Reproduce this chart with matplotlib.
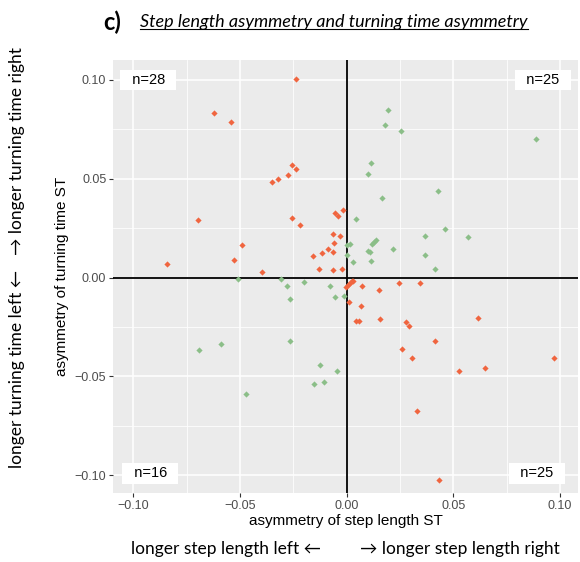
import matplotlib
matplotlib.use("Agg")
import matplotlib.pyplot as plt
from matplotlib.ticker import MultipleLocator
from matplotlib.lines import Line2D

# red: opposite-sign points (upper left / lower right)
red_x = [-0.0239, -0.0622, -0.0541, -0.0255, -0.0239, -0.0274, -0.0323, -0.0352,
         -0.0699, -0.0256, -0.0220, -0.0053, -0.0042, -0.0016, -0.0491, -0.0527,
         -0.0843, -0.0399, -0.0158, -0.0114, -0.0086, -0.0066, -0.0063, -0.0060,
         -0.0033, -0.0131, -0.0066, -0.0021,
         -0.0003, 0.0008, 0.0016, 0.0023, 0.0031, 0.0072, 0.0151, 0.0247, 0.0344,
         0.0012, 0.0068, 0.0044, 0.0059, 0.0155, 0.0278, 0.0294, 0.0617, 0.0415,
         0.0259, 0.0306, 0.0526, 0.0648, 0.0973, 0.0330, 0.0434]
red_y = [0.1004, 0.0832, 0.0789, 0.0570, 0.0551, 0.0521, 0.0498, 0.0481,
         0.0290, 0.0302, 0.0265, 0.0326, 0.0309, 0.0339, 0.0167, 0.0088,
         0.0068, 0.0027, 0.0111, 0.0125, 0.0145, 0.0127, 0.0219, 0.0174,
         0.0209, 0.0044, 0.0037, 0.0044,
         -0.0046, -0.0037, -0.0028, -0.0020, -0.0015, -0.0042, -0.0064, -0.0030, -0.0028,
         -0.0125, -0.0143, -0.0221, -0.0221, -0.0212, -0.0224, -0.0246, -0.0206, -0.0320,
         -0.0361, -0.0405, -0.0472, -0.0455, -0.0405, -0.0673, -0.1023]

# green: same-sign points (upper right / lower left)
green_x = [0.0192, 0.0181, 0.0255, 0.0889, 0.0112, 0.0098, 0.0430, 0.0165,
           0.0042, 0.0459, 0.0567, 0.0366, 0.0216, 0.0367, 0.0415, 0.0120,
           0.0129, 0.0137, 0.0100, 0.0109, 0.0115, 0.0031, 0.0003, 0.0015, 0.0000,
           -0.0508, -0.0309, -0.0280, -0.0267, -0.0199, -0.0077, -0.0055, -0.0011,
           -0.0267, -0.0691, -0.0588, -0.0124, -0.0045, -0.0153, -0.0108, -0.0474]
green_y = [0.0848, 0.0769, 0.0739, 0.0700, 0.0577, 0.0523, 0.0437, 0.0403,
           0.0295, 0.0246, 0.0207, 0.0212, 0.0143, 0.0116, 0.0041, 0.0169,
           0.0181, 0.0191, 0.0132, 0.0127, 0.0086, 0.0079, 0.0167, 0.0170, 0.0115,
           -0.0008, -0.0007, -0.0044, -0.0109, -0.0022, -0.0044, -0.0099, -0.0091,
           -0.0320, -0.0364, -0.0337, -0.0442, -0.0474, -0.0538, -0.0529, -0.0590]

n_labels = ["n=28", "n=25", "n=16", "n=25"]
n_x = [-0.093, 0.092, -0.092, 0.089]
n_y = [0.100, 0.100, -0.099, -0.099]

ticks = [-0.10, -0.05, 0.00, 0.05, 0.10]
tick_labels = ["\u22120.10", "\u22120.05", "0.00", "0.05", "0.10"]

plt.rcParams['font.family'] = ['Liberation Sans', 'DejaVu Sans']
side_font = ['Lato', 'DejaVu Sans']

fig = plt.figure(figsize=(5.8, 5.62), dpi=100)
ax = fig.add_axes([113.3 / 580, 1 - 492.7 / 562, (578 - 113.3) / 580, (492.7 - 60) / 562])
ax.set_facecolor("#EBEBEB")
ax.set_xlim(-0.1094, 0.1084)
ax.set_ylim(-0.1088, 0.110)

ax.xaxis.set_minor_locator(MultipleLocator(0.025))
ax.yaxis.set_minor_locator(MultipleLocator(0.025))
ax.set_xticks(ticks)
ax.set_xticklabels(tick_labels)
ax.set_yticks(ticks)
ax.set_yticklabels(tick_labels)
ax.grid(which="major", color="white", linewidth=1.1)
ax.grid(which="minor", color="white", linewidth=0.55)
ax.set_axisbelow(True)
for s in ax.spines.values():
    s.set_visible(False)
ax.tick_params(which="major", length=3, width=0.8, color="#333333",
               labelcolor="#4D4D4D", labelsize=9, pad=2)
ax.tick_params(which="minor", length=0)

ax.axhline(0, color="black", linewidth=1.3, zorder=2)
ax.axvline(0, color="black", linewidth=1.3, zorder=2)

ax.scatter(green_x, green_y, marker="D", s=10, color="#8BBE88", linewidths=0, zorder=3)
ax.scatter(red_x, red_y, marker="D", s=10, color="#F0653F", linewidths=0, zorder=3)

for lbl, x, y in zip(n_labels, n_x, n_y):
    ax.text(x, y, "  " + lbl + "  ", ha="center", va="center", fontsize=10.5, color="black",
            bbox=dict(boxstyle="square,pad=0.22", fc="white", ec="none"), zorder=4)

ax.set_xlabel("asymmetry of step length ST", fontsize=11, labelpad=2)
ax.set_ylabel("asymmetry of turning time ST", fontsize=11, labelpad=4)

# title with underline
fig.text(103 / 580, 1 - 22 / 562, "c)", fontsize=17, fontweight="bold",
         family=side_font, ha="left", va="center")
title = fig.text(140 / 580, 1 - 22 / 562, "Step length asymmetry and turning time asymmetry",
                 fontsize=13, style="italic", family=side_font, ha="left", va="center")

# outer direction labels
fig.text(321 / 580, 1 - 549 / 562, "longer step length left \u2190", fontsize=12.5,
         family=side_font, ha="right", va="center")
fig.text(360 / 580, 1 - 549 / 562, "\u2192 longer step length right", fontsize=12.5,
         family=side_font, ha="left", va="center")
fig.text(17 / 580, 1 - 270 / 562, "longer turning time left \u2190", fontsize=12.5,
         family=side_font, ha="center", va="top", rotation=90)
fig.text(17 / 580, 1 - 255 / 562, "\u2192 longer turning time right", fontsize=12.5,
         family=side_font, ha="center", va="bottom", rotation=90)

fig.canvas.draw()
bb = title.get_window_extent()
uy = bb.y0 + 1
fig.add_artist(Line2D([bb.x0 / fig.bbox.width, bb.x1 / fig.bbox.width],
                      [uy / fig.bbox.height, uy / fig.bbox.height],
                      transform=fig.transFigure, color="black", linewidth=0.8))

fig.savefig("out.png", dpi=100)
